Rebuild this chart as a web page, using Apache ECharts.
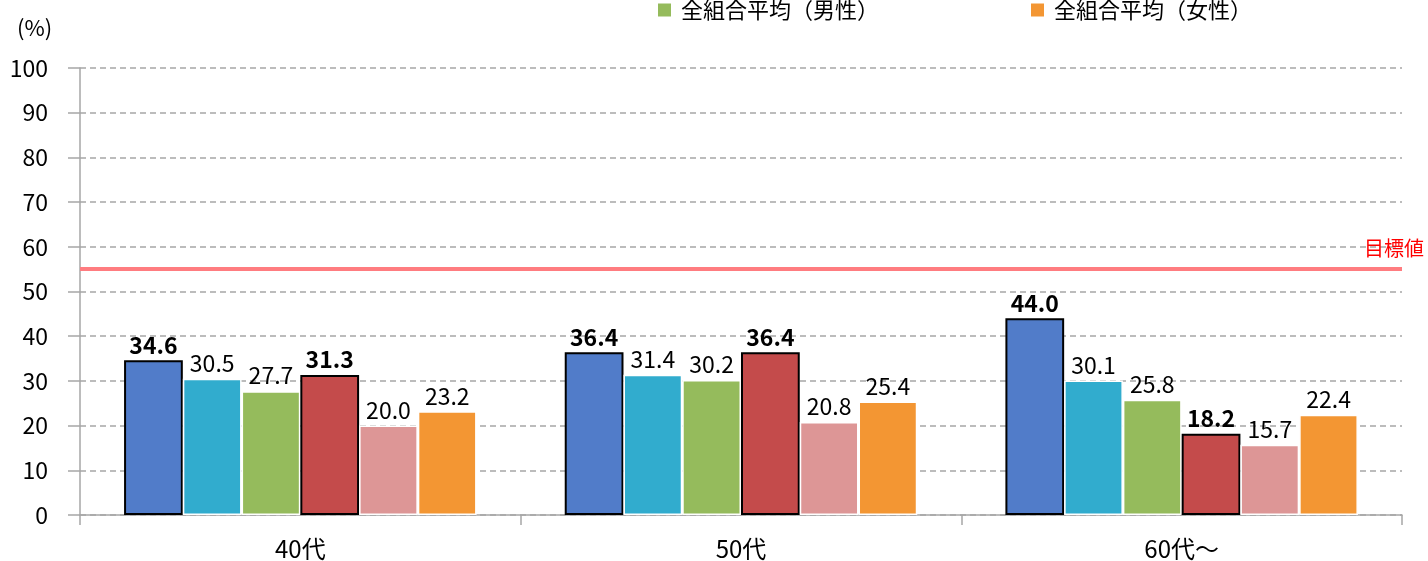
<!DOCTYPE html>
<html>
<head>
<meta charset="utf-8">
<script src="https://cdn.jsdelivr.net/npm/echarts@6/dist/echarts.min.js"></script>
<style>html,body{margin:0;padding:0;background:#fff}#c{width:1428px;height:561px}</style>
</head>
<body>
<div id="c"></div>
<script>
const categories = ['40代', '50代', '60代～'];
const seriesNames = ['当組合（男性）', '同業種平均（男性）', '全組合平均（男性）', '当組合（女性）', '同業種平均（女性）', '全組合平均（女性）'];
const ownMale = [34.6, 36.4, 44.0];
const peerMale = [30.5, 31.4, 30.1];
const allMale = [27.7, 30.2, 25.8];
const ownFemale = [31.3, 36.4, 18.2];
const peerFemale = [20.0, 20.8, 15.7];
const allFemale = [23.2, 25.4, 22.4];
const targetValue = 55;
const targetLabel = '目標値';
const yTicks = { min: 0, max: 100, interval: 10 };
const unitLabel = '(%)';

const colors = ['#517cc9', '#31acce', '#95bb5c', '#c44b4b', '#dd9696', '#f39633'];
const values = [ownMale, peerMale, allMale, ownFemale, peerFemale, allFemale];
const bold = [true, false, false, true, false, false];
const FONT = '"Noto Sans CJK JP", "Noto Sans", sans-serif';

const chart = echarts.init(document.getElementById('c'), null, { renderer: 'canvas' });
const series = values.map((v, i) => ({
  name: seriesNames[i],
  type: 'bar',
  data: v,
  barGap: '0%',
  barCategoryGap: '20%',
  itemStyle: {
    color: colors[i],
    borderColor: bold[i] ? '#000' : '#fff',
    borderWidth: bold[i] ? 2 : 1.5
  },
  label: {
    show: true,
    position: 'top',
    distance: 4,
    formatter: p => p.value.toFixed(1),
    color: '#000',
    fontFamily: FONT,
    fontSize: 23,
    fontWeight: bold[i] ? 'bold' : 'normal'
  },
  z: 3
}));
series[0].markLine = {
  silent: true,
  symbol: 'none',
  lineStyle: { color: '#ff7c80', width: 4, type: 'solid' },
  label: {
    show: true,
    formatter: targetLabel,
    position: 'insideEndTop',
    color: '#ff0000',
    fontFamily: FONT,
    fontSize: 20,
    distance: 11,
    offset: [33, 0]
  },
  data: [{ yAxis: targetValue }]
};

chart.setOption({
  animation: false,
  color: colors,
  textStyle: { fontFamily: FONT },
  title: {
    text: unitLabel,
    left: 12, top: 12,
    textStyle: { fontSize: 22, fontWeight: 'normal', color: '#000', fontFamily: FONT }
  },
  legend: {
    data: [seriesNames[2], seriesNames[5]],
    left: 651, top: -6,
    itemWidth: 15, itemHeight: 15, itemGap: 150,
    icon: 'rect',
    textStyle: { fontSize: 22, color: '#000', fontFamily: FONT, padding: [0, 0, 0, 4] }
  },
  grid: { left: 80, right: 26, top: 68, bottom: 46, containLabel: false },
  xAxis: {
    type: 'category',
    data: categories,
    axisLine: { show: true, lineStyle: { color: '#a6a6a6', width: 1.5 } },
    axisTick: { show: true, length: 10, alignWithLabel: false, lineStyle: { color: '#a6a6a6', width: 1.5 } },
    axisLabel: { color: '#000', fontSize: 24, margin: 22, fontFamily: FONT },
    splitLine: { show: false }
  },
  yAxis: {
    type: 'value',
    min: yTicks.min, max: yTicks.max, interval: yTicks.interval,
    axisLine: { show: true, lineStyle: { color: '#a6a6a6', width: 1.5 } },
    axisTick: { show: true, length: 12, lineStyle: { color: '#a6a6a6', width: 1.5 } },
    axisLabel: { color: '#000', fontSize: 23, margin: 32, fontFamily: FONT },
    splitLine: { show: true, lineStyle: { color: '#a6a6a6', type: [6, 4], width: 1.5 } }
  },
  series: series
});
</script>
</body>
</html>
